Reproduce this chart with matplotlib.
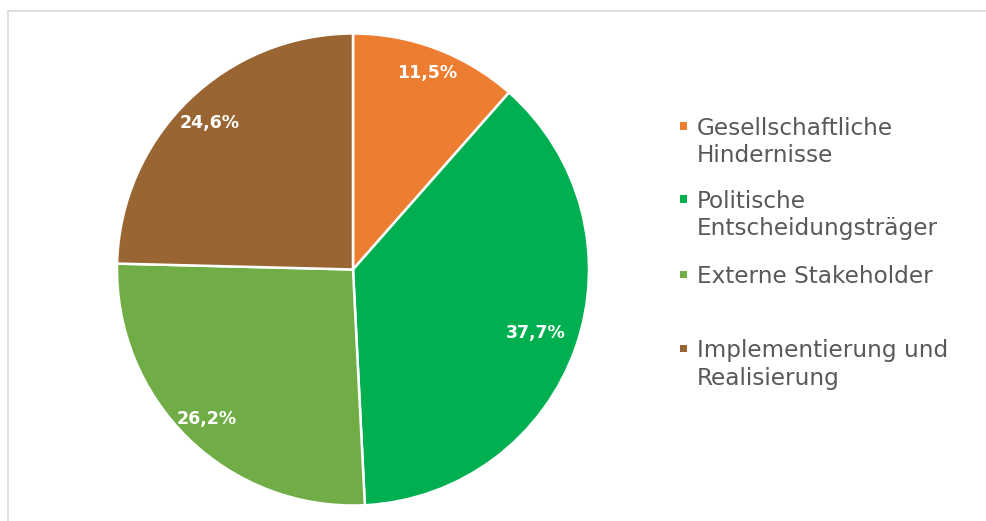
import numpy as np
import matplotlib
matplotlib.use("Agg")
import matplotlib.pyplot as plt
from matplotlib.patches import Rectangle
from matplotlib.lines import Line2D

# Data
categories = ["Gesellschaftliche\nHindernisse",
              "Politische\nEntscheidungsträger",
              "Externe Stakeholder",
              "Implementierung und\nRealisierung"]
shares = [11.5, 37.7, 26.2, 24.6]
colors = ["#ED7D31", "#00B050", "#70AD47", "#996633"]

W, H = 987, 521
fig = plt.figure(figsize=(W / 100, H / 100), dpi=100)
fig.patch.set_facecolor("white")

def fx(px):
    return px / W

def fy(py):
    return 1 - py / H

# Chart frame (top and left edge)
frame_color = "#D9D9D9"
fig.add_artist(Line2D([fx(8), 1.0], [fy(11), fy(11)], color=frame_color, lw=1.2))
fig.add_artist(Line2D([fx(8), fx(8)], [fy(11), 0.0], color=frame_color, lw=1.2))

# Pie
cx, cy, R = 353, 269.5, 236
ax = fig.add_axes([fx(cx - R), fy(cy + R), 2 * R / W, 2 * R / H])
wedges, _ = ax.pie(shares, colors=colors, startangle=90, counterclock=False,
                   radius=1.0,
                   wedgeprops=dict(edgecolor="white", linewidth=1.8))
ax.set_xlim(-1.0, 1.0)
ax.set_ylim(-1.0, 1.0)
ax.set_aspect("equal")
ax.axis("off")

# Percentage labels inside the slices
label_dist = [0.89, 0.82, 0.885, 0.87]
cum = np.cumsum([0] + shares[:-1])
for v, c0, d in zip(shares, cum, label_dist):
    ang = np.deg2rad(90 - (c0 + v / 2) * 3.6)
    txt = f"{v:.1f}%".replace(".", ",")
    ax.text(d * np.cos(ang), d * np.sin(ang), txt, ha="center", va="center",
            color="white", fontsize=12.5, fontweight="bold", family="DejaVu Sans")

# Legend
legend_rows = [127, 200, 275, 349]
text_color = "#595959"
for label, col, y in zip(categories, colors, legend_rows):
    fig.add_artist(Rectangle((fx(680), fy(y + 2.5)), 7 / W, 7 / H,
                             transform=fig.transFigure, color=col, lw=0))
    fig.text(fx(697), fy(y - 10), label, ha="left", va="top",
             color=text_color, fontsize=16.7, family="DejaVu Sans",
             linespacing=1.25)

fig.savefig("out.png", dpi=100, facecolor="white")
